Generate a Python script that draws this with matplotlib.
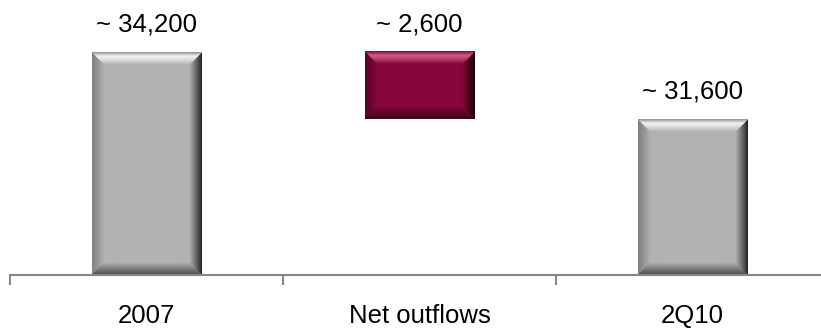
import numpy as np
import matplotlib
matplotlib.use("Agg")
import matplotlib.pyplot as plt
from matplotlib.colors import to_rgb

# waterfall values
categories = ["2007", "Net outflows", "2Q10"]
start_value = 34200
net_outflows = 2600
end_value = 31600

# value range of the (broken) y axis
y_min, y_max = 25550, 36220

plt.rcParams["font.family"] = ["Liberation Sans", "DejaVu Sans"]

GRAY = dict(face="#b2b2b2", top_edge="#9c9c9c", top_light="#f0f0f0",
            left="#808080", right="#262626", bottom="#555555")
RED = dict(face="#86063a", top_edge="#8a1040", top_light="#cc5a86",
           left="#5a0228", right="#160006", bottom="#3e061c")


def bevel_image(w, h, pal, b=12):
    """RGB array for a beveled rectangle w x h pixels."""
    face = np.array(to_rgb(pal["face"]))
    img = np.tile(face, (h, w, 1))
    ii, jj = np.mgrid[0:h, 0:w]
    dist = np.stack([ii, h - 1 - ii, jj, w - 1 - jj])  # top, bottom, left, right
    side = dist.argmin(axis=0)
    d = dist.min(axis=0)
    t = np.clip(d / b, 0, 1)[..., None]
    inside = (d < b)

    def lerp(a, c, s):
        return np.array(to_rgb(a)) * (1 - s) + np.array(to_rgb(c)) * s

    # top: darker rim, bright band, fade to face
    top = np.where(t < 0.3, lerp(pal["top_edge"], pal["top_light"], t / 0.3),
                   lerp(pal["top_light"], pal["face"], ((t - 0.3) / 0.7) ** 1.3))
    bottom = lerp(pal["bottom"], pal["face"], t ** 1.2)
    left = lerp(pal["left"], pal["face"], t ** 1.0)
    right = lerp(pal["right"], pal["face"], t ** 0.9)
    shades = [top, bottom, left, right]
    for k in range(4):
        m = inside & (side == k)
        img[m] = shades[k][m]
    return np.clip(img, 0, 1)


fig = plt.figure(figsize=(8.21, 3.28), dpi=100)
ax = fig.add_axes([10 / 821, 53 / 328, 819 / 821, 275 / 328])
ax.set_xlim(-0.5, 2.5)
ax.set_ylim(y_min, y_max)

x = np.arange(len(categories))
bottoms = [y_min, end_value, y_min]
heights = [start_value - y_min, net_outflows, end_value - y_min]
tops = [start_value, start_value, end_value]
palettes = [GRAY, RED, GRAY]
values = [start_value, net_outflows, end_value]

bars = ax.bar(x, heights, bottom=bottoms, width=0.4, color=[p["face"] for p in palettes],
              linewidth=0, zorder=1)

# bevel shading laid over each bar
for rect, pal in zip(bars, palettes):
    x0, y0 = rect.get_x(), rect.get_y()
    x1, y1 = x0 + rect.get_width(), y0 + rect.get_height()
    (px0, py0), (px1, py1) = ax.transData.transform([(x0, y0), (x1, y1)])
    w, h = int(round(px1 - px0)), int(round(py1 - py0))
    ax.imshow(bevel_image(w, h, pal), extent=(x0, x1, y0, y1), origin="upper",
              aspect="auto", interpolation="bilinear", zorder=2)

for xi, top, v in zip(x, tops, values):
    ax.annotate(f"~ {v:,}", xy=(xi, top), xytext=(0, 21), textcoords="offset pixels",
                ha="center", va="baseline", fontsize=18.5, color="black")

for xi, lab in zip(x, categories):
    ax.annotate(lab, xy=(xi, 0), xycoords=ax.get_xaxis_transform(),
                xytext=(0, -48), textcoords="offset pixels",
                ha="center", va="baseline", fontsize=18.5, color="black")

ax.set_xlim(-0.5, 2.5)
ax.set_ylim(y_min, y_max)
for s in ["top", "right", "left"]:
    ax.spines[s].set_visible(False)
ax.spines["bottom"].set_color("#868686")
ax.spines["bottom"].set_linewidth(1.5)
ax.spines["bottom"].set_zorder(3)
ax.set_xticks(np.arange(-0.5, 3, 1))
ax.set_xticklabels([])
ax.tick_params(axis="x", direction="out", length=7, width=1.5, color="#868686")
ax.set_yticks([])
ax.patch.set_visible(False)

fig.savefig("out.png", dpi=100)
